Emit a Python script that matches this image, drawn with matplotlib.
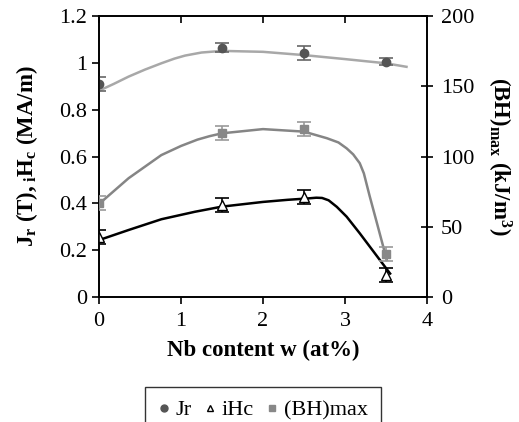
import matplotlib
matplotlib.use("Agg")
import matplotlib.pyplot as plt
from matplotlib.lines import Line2D

plt.rcParams['font.family'] = ['Liberation Serif', 'DejaVu Serif']
plt.rcParams['mathtext.fontset'] = 'custom'
plt.rcParams['mathtext.rm'] = 'Liberation Serif'
plt.rcParams['mathtext.bf'] = 'Liberation Serif:bold'

# measured points
nb = [0, 1.5, 2.5, 3.5]
jr = [0.91, 1.065, 1.04, 1.005]
jr_err = [0.03, 0.02, 0.03, 0.015]
ihc = [0.257, 0.393, 0.428, 0.095]
ihc_err = [0.03, 0.03, 0.03, 0.03]
bh = [66.7, 116.7, 119.3, 30.7]
bh_err = [5, 5, 5, 5]

# fitted trend lines
jr_fit_x = [0, 0.18, 0.36, 0.56, 0.76, 0.92, 1.05, 1.25, 1.5, 2.0, 2.5, 3.0, 3.5, 3.75]
jr_fit_y = [0.881, 0.91, 0.941, 0.971, 0.998, 1.018, 1.031, 1.044, 1.051, 1.047, 1.033, 1.016, 0.998, 0.983]
ihc_fit_x = [0, 0.36, 0.76, 1.17, 1.5, 2.0, 2.3, 2.55, 2.65, 2.72, 2.8, 2.9, 3.02, 3.18, 3.35, 3.55]
ihc_fit_y = [0.243, 0.286, 0.332, 0.364, 0.386, 0.406, 0.415, 0.421, 0.424, 0.423, 0.413, 0.385, 0.343, 0.272, 0.193, 0.1]
bh_fit_x = [0, 0.36, 0.76, 1.0, 1.2, 1.35, 1.5, 2.0, 2.5, 2.78, 2.92, 3.02, 3.1, 3.18, 3.23, 3.3, 3.39, 3.51]
bh_fit_y = [66.2, 84.5, 101, 107.5, 112, 114.5, 116.5, 119.5, 117.7, 113, 110, 105.8, 101.5, 95.2, 88, 72, 52.5, 26.3]

fig = plt.figure(figsize=(5.19, 4.22), dpi=100)
ax = fig.add_axes([99 / 519, 1 - 297 / 422, 328 / 519, 281 / 422])
ax2 = ax.twinx()

# Jr
ax.plot(jr_fit_x, jr_fit_y, color='#a8a8a8', lw=1.8, zorder=2)
ax.errorbar(nb, jr, yerr=jr_err, fmt='o', color='#555555', ms=6,
            ecolor='#666666', elinewidth=1.2, capsize=5, capthick=1.2, zorder=3)
# iHc
ax.plot(ihc_fit_x, ihc_fit_y, color='black', lw=1.8, zorder=2)
ax.errorbar(nb, ihc, yerr=ihc_err, fmt='^', mfc='white', mec='black', ms=7,
            ecolor='black', elinewidth=1.2, capsize=5, capthick=1.2, zorder=3)
# (BH)max on right axis
ax2.plot(bh_fit_x, bh_fit_y, color='#858585', lw=1.8, zorder=2)
ax2.errorbar(nb, bh, yerr=bh_err, fmt='s', color='#888888', ms=6,
             ecolor='#999999', elinewidth=1.2, capsize=5, capthick=1.2, zorder=3)

ax.set_xlim(0, 4)
ax.set_ylim(0, 1.2)
ax2.set_ylim(0, 200)
ax.set_xticks([0, 1, 2, 3, 4])
ax.set_yticks([0, 0.2, 0.4, 0.6, 0.8, 1.0, 1.2])
ax.set_yticklabels(['0', '0.2', '0.4', '0.6', '0.8', '1', '1.2'])
ax2.set_yticks([0, 50, 100, 150, 200])

for a in (ax, ax2):
    for s in a.spines.values():
        s.set_linewidth(1.2)
ax.tick_params(axis='both', labelsize=16, width=1.2, length=5, direction='out')
ax.tick_params(axis='x', top=True, pad=6)
ax2.tick_params(axis='y', labelsize=16, width=1.2, length=8, direction='inout', pad=6)
# top ticks point inward
for t in ax.xaxis.get_major_ticks():
    t.tick2line.set_marker(3)

ax.set_xlabel('Nb content w (at%)', fontsize=16.5, fontweight='bold', labelpad=6)
ax.set_ylabel(r'$\mathbf{J_r}$ $\mathbf{(T), {}_iH_c}$ $\mathbf{(MA/m)}$', fontsize=16.5, labelpad=14)
ax2.set_ylabel(r'$\mathbf{(BH)_{max}}$ $\mathbf{(kJ/m^3)}$', fontsize=16.5, rotation=270, labelpad=28)

handles = [
    Line2D([], [], ls='none', marker='o', color='#555555', ms=5),
    Line2D([], [], ls='none', marker='^', mfc='white', mec='black', ms=5),
    Line2D([], [], ls='none', marker='s', color='#888888', ms=5),
]
leg = fig.legend(handles, ['Jr', 'iHc', '(BH)max'], loc='upper center',
                 bbox_to_anchor=(263 / 519, 1 - 387 / 422), ncol=3, fontsize=16,
                 frameon=True, fancybox=False, edgecolor='black', borderpad=0.58,
                 borderaxespad=0, handletextpad=0.3, columnspacing=0.55, handlelength=0.5)
leg.get_frame().set_linewidth(1.0)

fig.savefig('out.png', dpi=100)
